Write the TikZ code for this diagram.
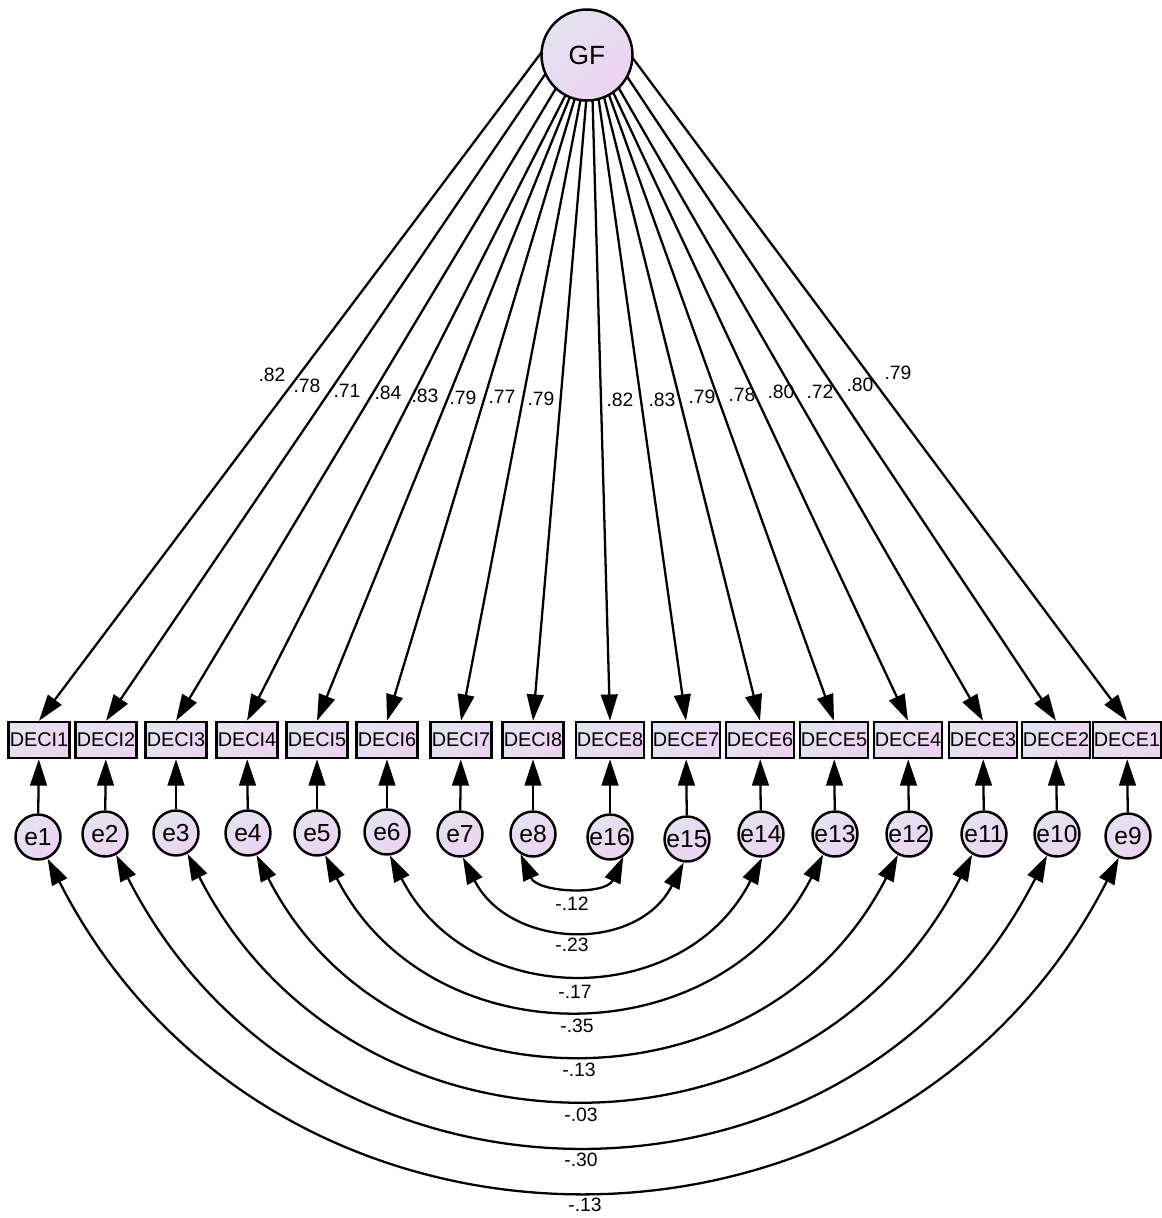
\documentclass[tikz,border=0pt]{standalone}
\usepackage{fontspec}
\setmainfont{Liberation Sans}
\usetikzlibrary{arrows.meta,calc}
\pgfdeclarelayer{background}
\pgfsetlayers{background,main}
\definecolor{gA}{RGB}{226,228,240}
\definecolor{gB}{RGB}{238,210,242}
\tikzset{
  shadefill/.style={left color=gA,right color=gB,shading angle=45},
  obs/.style={draw,line width=1.4pt,shadefill,rectangle,minimum height=0.72cm,inner xsep=0.6pt,inner ysep=0pt,font=\fontsize{11.3}{13}\selectfont},
  err/.style={draw,line width=1.4pt,shadefill,circle,minimum size=0.9cm,inner sep=0pt,font=\fontsize{14}{16}\selectfont},
  lat/.style={draw,line width=1.4pt,shadefill,circle,minimum size=1.82cm,inner sep=0pt,font=\fontsize{15}{17}\selectfont},
  arr/.style={line width=1.3pt,-{Triangle[length=15pt,width=9.5pt]}},
  cov/.style={line width=1.3pt,{Triangle[length=15pt,width=9.5pt]}-{Triangle[length=15pt,width=9.5pt]}},
  lab/.style={font=\fontsize{11}{13}\selectfont,inner sep=0pt},
}
\begin{document}
\begin{tikzpicture}[x=0.02cm,y=0.02cm]
\useasboundingbox (0,0) rectangle (1161,-1218);
% latent
\node[lat] (GF) at (587,-55) {GF};
% observed
\foreach \n/\x in {DECI1/39,DECI2/106,DECI3/176,DECI4/247,DECI5/317,DECI6/387,DECI7/461,DECI8/533,DECE8/610,DECE7/686,DECE6/760,DECE5/834,DECE4/908,DECE3/983,DECE2/1056,DECE1/1127}
  \node[obs] (\n) at (\x,-740) {\n};
% errors
\foreach \n/\x/\y in {e1/38/837,e2/105/834,e3/176/833,e4/248/833,e5/317/833,e6/387/832,e7/460/834,e8/533/834,e16/610/837,e15/687/839,e14/761/834,e13/835/834,e12/909/834,e11/984/834,e10/1057/834,e9/1128/836}
  \node[err] (\n) at (\x,-\y) {\n};
% loadings
\begin{pgfonlayer}{background}
\foreach \n/\g in {DECI1/547,DECI2/565,DECI3/582,DECI4/591,DECI5/591,DECI6/591,DECI7/591,DECI8/591,DECE8/591,DECE7/591,DECE6/591,DECE5/591,DECE4/591,DECE3/594,DECE2/606,DECE1/623}
{
  \coordinate (g\n) at (\g,-45);
  \draw[arr] (g\n) -- (\n.north);
}
\end{pgfonlayer}
% error paths
\foreach \e/\b in {e1/DECI1,e2/DECI2,e3/DECI3,e4/DECI4,e5/DECI5,e6/DECI6,e7/DECI7,e8/DECI8,e16/DECE8,e15/DECE7,e14/DECE6,e13/DECE5,e12/DECE4,e11/DECE3,e10/DECE2,e9/DECE1}
  \draw[arr] (\e) -- (\b);
% covariances
\draw[cov] (e8.-122) to[out=-66,in=-114,distance=0.85cm] (e16.-56);
\draw[cov] (e7.-83) to[out=-63,in=-117,distance=2.05cm] (e15.-98);
\draw[cov] (e6.-83) to[out=-63,in=-117,distance=3.46cm] (e14.-87);
\draw[cov] (e5.-70) to[out=-63,in=-117,distance=4.58cm] (e13.-120);
\draw[cov] (e4.-69) to[out=-63,in=-117,distance=5.91cm] (e12.-118);
\draw[cov] (e3.-61) to[out=-63,in=-117,distance=7.27cm] (e11.-120);
\draw[cov] (e2.-62) to[out=-63,in=-117,distance=8.62cm] (e10.-115);
\draw[cov] (e1.-66) to[out=-63,in=-117,distance=9.89cm] (e9.-113);
% loading labels
\node[lab] (l1) at (272,-375) {.82};
\node[lab] (l2) at (307,-386) {.78};
\node[lab] (l3) at (347,-391) {.71};
\node[lab] (l4) at (388,-393) {.84};
\node[lab] (l5) at (425,-396) {.83};
\node[lab] (l6) at (463,-398) {.79};
\node[lab] (l7) at (502,-397) {.77};
\node[lab] (l8) at (541,-399) {.79};
\node[lab] (l9) at (620,-400) {.82};
\node[lab] (l10) at (662,-400) {.83};
\node[lab] (l11) at (702,-397) {.79};
\node[lab] (l12) at (742,-395) {.78};
\node[lab] (l13) at (781,-392) {.80};
\node[lab] (l14) at (820,-392) {.72};
\node[lab] (l15) at (860,-385) {.80};
\node[lab] (l16) at (898,-373) {.79};
% covariance labels
\node[lab] (c1) at (572,-904) {-.12};
\node[lab] (c2) at (572,-945) {-.23};
\node[lab] (c3) at (575,-992) {-.17};
\node[lab] (c4) at (577,-1026) {-.35};
\node[lab] (c5) at (579,-1070) {-.13};
\node[lab] (c6) at (581,-1115) {-.03};
\node[lab] (c7) at (581,-1160) {-.30};
\node[lab] (c8) at (585,-1205) {-.13};
\end{tikzpicture}
\end{document}
